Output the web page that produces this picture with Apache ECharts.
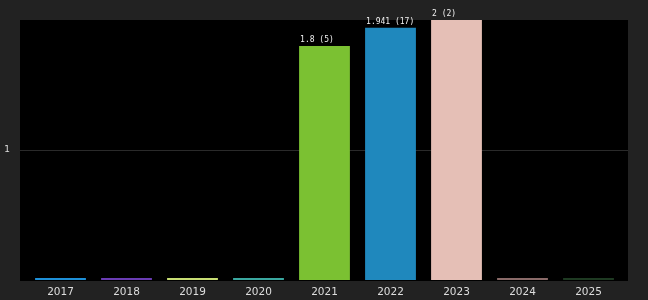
<!DOCTYPE html>
<html>
<head>
<meta charset="utf-8">
<script src="https://cdn.jsdelivr.net/npm/echarts@6/dist/echarts.min.js"></script>
<style>
  html, body { margin: 0; padding: 0; background: #222; }
  #chart { width: 648px; height: 300px; }
</style>
</head>
<body>
<div id="chart"></div>
<script>
const years = ['2017', '2018', '2019', '2020', '2021', '2022', '2023', '2024', '2025'];
const values = [0, 0, 0, 0, 1.8, 1.941, 2, 0, 0];
const counts = [0, 0, 0, 0, 5, 17, 2, 0, 0];
const colors = ['#1e90d8', '#6a3cb4', '#c8de74', '#3aa8a0', '#7bc132', '#1f88bd', '#e5bfb6', '#8a6a68', '#1e3a22'];

const myChart = echarts.init(document.getElementById('chart'));
myChart.setOption({
  backgroundColor: '#222',
  animation: false,
  grid: [
    // black plot area + y gridline
    { left: 20, right: 20, top: 20, bottom: 20, show: true, backgroundColor: '#000', borderWidth: 0 },
    // bars sit a bit inset from the black area
    { left: 27.5, right: 26.5, top: 20, bottom: 20 }
  ],
  xAxis: [
    { gridIndex: 0, type: 'category', data: years, show: false },
    {
      gridIndex: 1,
      type: 'category',
      data: years,
      axisLine: { show: false },
      axisTick: { show: false },
      axisLabel: { color: '#ddd', fontSize: 10.5, fontFamily: 'DejaVu Sans', margin: 7 }
    }
  ],
  yAxis: [
    {
      gridIndex: 0,
      type: 'value',
      min: 0,
      max: 2,
      interval: 1,
      axisLine: { show: false },
      axisTick: { show: false },
      axisLabel: {
        color: '#ddd', fontSize: 9, fontFamily: 'DejaVu Sans', margin: 10,
        formatter: (v) => (v === 1 ? '1' : '')
      },
      splitLine: { lineStyle: { color: ['#000', '#2a2a2a'], width: 1 } }
    },
    { gridIndex: 1, type: 'value', min: 0, max: 2, show: false }
  ],
  series: [{
    type: 'bar',
    xAxisIndex: 1,
    yAxisIndex: 1,
    barWidth: '77%',
    barMinHeight: 2,
    data: values.map((v, i) => ({ value: v, itemStyle: { color: colors[i] } })),
    label: {
      show: true,
      position: [1, -10],  // left aligned above the bar
      color: '#f0f0f0',
      fontSize: 8,
      fontFamily: 'DejaVu Sans Mono',
      formatter: (p) => (counts[p.dataIndex] ? p.value + ' (' + counts[p.dataIndex] + ')' : '')
    }
  }]
});
</script>
</body>
</html>
